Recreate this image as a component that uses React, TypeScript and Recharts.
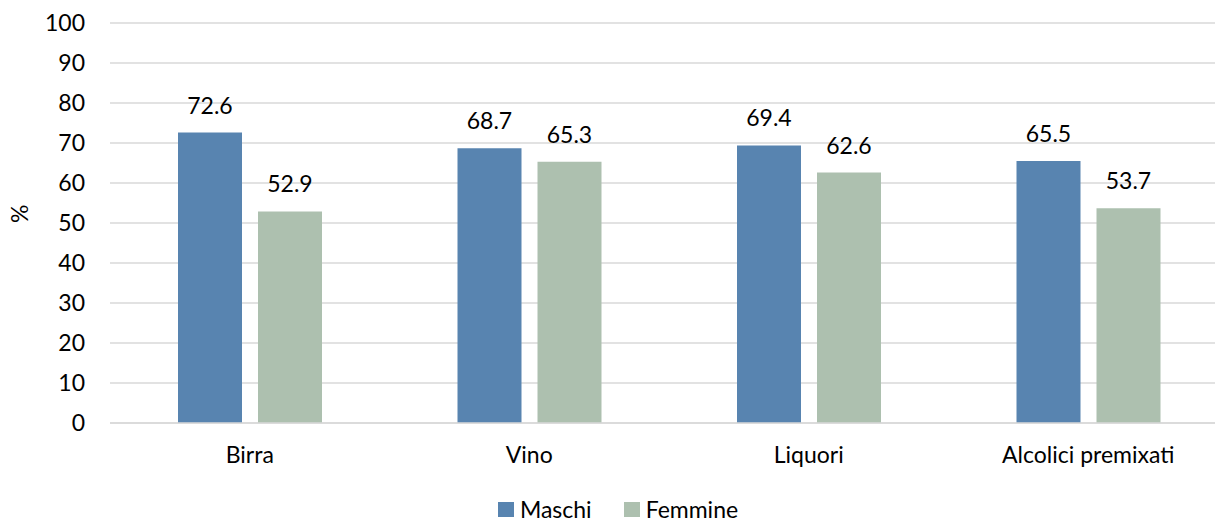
import React from 'react';
import { BarChart, Bar, XAxis, YAxis, CartesianGrid, Legend, LabelList } from 'recharts';

const categories = ['Birra', 'Vino', 'Liquori', 'Alcolici premixati'];
const maschi = [72.6, 68.7, 69.4, 65.5];
const femmine = [52.9, 65.3, 62.6, 53.7];
const yTicks = [0, 10, 20, 30, 40, 50, 60, 70, 80, 90, 100];

const MASCHI_COLOR = '#5884B0';
const FEMMINE_COLOR = '#ADC0AF';
const FONT = 'Lato, "Noto Sans", sans-serif';
const FS = 23;

const data = categories.map((name, i) => ({
  name,
  Maschi: maschi[i],
  Femmine: femmine[i],
}));

const LegendContent = () => {
  const items = [
    { label: 'Maschi', color: MASCHI_COLOR },
    { label: 'Femmine', color: FEMMINE_COLOR },
  ];
  return (
    <div style={{ display: 'flex', justifyContent: 'center', alignItems: 'center', fontFamily: FONT, fontSize: FS, color: '#000', lineHeight: '26px' }}>
      {items.map((it, i) => (
        <div key={it.label} style={{ display: 'flex', alignItems: 'center', marginLeft: i === 0 ? 0 : 32 }}>
          <span style={{ display: 'inline-block', width: 16, height: 15, background: it.color, marginRight: 6 }} />
          <span>{it.label}</span>
        </div>
      ))}
    </div>
  );
};

const App: React.FC = () => {
  return (
    <div style={{ position: 'absolute', left: 0, top: 0, width: 1215, height: 522, overflow: 'hidden', background: '#fff' }}>
      <BarChart
        width={1228}
        height={522}
        data={data}
        margin={{ top: 23, right: 0, bottom: 0, left: 0 }}
        barGap={16}
        barSize={64}
      >
        <CartesianGrid vertical={false} stroke="#D9D9D9" strokeWidth={1.5} />
        <XAxis
          dataKey="name"
          height={73}
          tickLine={false}
          axisLine={{ stroke: '#D9D9D9', strokeWidth: 1.5 }}
          tickMargin={18}
          tick={{ fill: '#000', fontSize: FS, fontFamily: FONT }}
        />
        <YAxis
          width={110}
          domain={[0, 100]}
          ticks={yTicks}
          interval={0}
          tickLine={false}
          axisLine={false}
          tickMargin={19}
          tick={{ fill: '#000', fontSize: FS, fontFamily: FONT }}
          label={{ value: '%', angle: -90, position: 'insideLeft', offset: 20, fill: '#000', fontSize: FS, fontFamily: FONT }}
        />
        <Legend
          verticalAlign="bottom"
          height={26}
          content={<LegendContent />}
          wrapperStyle={{ left: 0, width: 1236 }}
        />
        <Bar dataKey="Maschi" fill={MASCHI_COLOR} isAnimationActive={false}>
          <LabelList dataKey="Maschi" position="top" offset={19} fill="#000" fontSize={FS} fontFamily={FONT} />
        </Bar>
        <Bar dataKey="Femmine" fill={FEMMINE_COLOR} isAnimationActive={false}>
          <LabelList dataKey="Femmine" position="top" offset={19} fill="#000" fontSize={FS} fontFamily={FONT} />
        </Bar>
      </BarChart>
    </div>
  );
};

export default App;
